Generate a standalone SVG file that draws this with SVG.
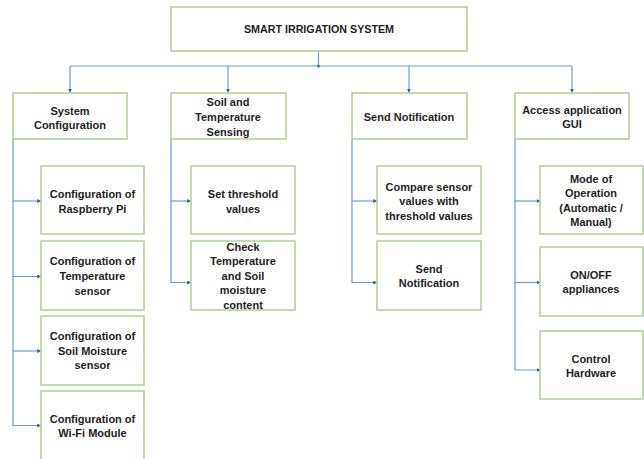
<svg xmlns="http://www.w3.org/2000/svg" width="644" height="459" viewBox="0 0 644 459">
<defs>
<style>
.box{fill:#ffffff;stroke:#a9cc8e;stroke-width:1.4}
.t{font-family:"Liberation Sans",Arial,sans-serif;font-size:11px;font-weight:bold;fill:#1e1e1e;text-anchor:middle;dominant-baseline:central}
.c{fill:none;stroke:#6d9bcf;stroke-width:1.2}
</style>
<marker id="ah" viewBox="0 0 6 6" refX="5" refY="3" markerWidth="4" markerHeight="4" orient="auto" markerUnits="userSpaceOnUse">
<path d="M0,0 L6,3 L0,6 Z" fill="#2f5f9f"/>
</marker>
</defs>
<rect width="644" height="459" fill="#ffffff"/>
<g id="connectors">
<path class="c" d="M318.5,51 V66"/>
<circle cx="318.5" cy="66" r="1.6" fill="#2f5f9f"/>
<path class="c" d="M70,66 H572"/>
<path class="c" d="M70,66 V92" marker-end="url(#ah)"/>
<path class="c" d="M228,66 V92" marker-end="url(#ah)"/>
<path class="c" d="M409,66 V92" marker-end="url(#ah)"/>
<path class="c" d="M572,66 V92" marker-end="url(#ah)"/>
<path class="c" d="M13,139 V425.5 H40.5" marker-end="url(#ah)"/>
<path class="c" d="M13,201 H40.5" marker-end="url(#ah)"/>
<path class="c" d="M13,276.5 H40.5" marker-end="url(#ah)"/>
<path class="c" d="M13,351 H40.5" marker-end="url(#ah)"/>
<path class="c" d="M171,139 V282.5 H190.5" marker-end="url(#ah)"/>
<path class="c" d="M171,201 H190.5" marker-end="url(#ah)"/>
<path class="c" d="M352,139 V282.5 H376.5" marker-end="url(#ah)"/>
<path class="c" d="M352,201 H376.5" marker-end="url(#ah)"/>
<path class="c" d="M515,139 V370 H540" marker-end="url(#ah)"/>
<path class="c" d="M515,201 H540" marker-end="url(#ah)"/>
<path class="c" d="M515,282.5 H540" marker-end="url(#ah)"/>
</g>
<g id="root">
<rect class="box" x="171" y="7" width="296" height="44"/>
<text class="t" x="319" y="29" style="font-size:10.7px">SMART IRRIGATION SYSTEM</text>
</g>
<g id="system-configuration">
<rect class="box" x="13" y="93" width="114" height="46"/>
<text class="t" x="70" y="110.5">System</text>
<text class="t" x="70" y="124.5">Configuration</text>
</g>
<g id="soil-temperature-sensing">
<rect class="box" x="171" y="93" width="115" height="46"/>
<text class="t" x="228" y="102">Soil and</text>
<text class="t" x="228" y="117">Temperature</text>
<text class="t" x="228" y="131.5">Sensing</text>
</g>
<g id="send-notification">
<rect class="box" x="352" y="93" width="115" height="46"/>
<text class="t" x="409" y="117">Send Notification</text>
</g>
<g id="access-gui">
<rect class="box" x="515" y="93" width="114" height="46"/>
<text class="t" x="572" y="110">Access application</text>
<text class="t" x="572" y="124">GUI</text>
</g>
<g id="config-rpi">
<rect class="box" x="41" y="166" width="103" height="68"/>
<text class="t" x="92.5" y="194">Configuration of</text>
<text class="t" x="92.5" y="208.5">Raspberry Pi</text>
</g>
<g id="config-temp">
<rect class="box" x="41" y="241" width="103" height="69"/>
<text class="t" x="92.5" y="261">Configuration of</text>
<text class="t" x="92.5" y="276">Temperature</text>
<text class="t" x="92.5" y="290.5">sensor</text>
</g>
<g id="config-soil">
<rect class="box" x="41" y="316" width="103" height="69"/>
<text class="t" x="92.5" y="335.5">Configuration of</text>
<text class="t" x="92.5" y="350.5">Soil Moisture</text>
<text class="t" x="92.5" y="365">sensor</text>
</g>
<g id="config-wifi">
<rect class="box" x="41" y="391" width="103" height="70"/>
<text class="t" x="92.5" y="418.5">Configuration of</text>
<text class="t" x="92.5" y="433">Wi-Fi Module</text>
</g>
<g id="set-threshold">
<rect class="box" x="191" y="166" width="104" height="68"/>
<text class="t" x="243" y="193.5">Set threshold</text>
<text class="t" x="243" y="208.5">values</text>
</g>
<g id="check-temp-soil">
<rect class="box" x="191" y="241" width="104" height="69"/>
<text class="t" x="243" y="246.5">Check</text>
<text class="t" x="243" y="261">Temperature</text>
<text class="t" x="243" y="275.5">and Soil</text>
<text class="t" x="243" y="290">moisture</text>
<text class="t" x="243" y="304.5">content</text>
</g>
<g id="compare-values">
<rect class="box" x="377" y="166" width="104" height="68"/>
<text class="t" x="429" y="186.5">Compare sensor</text>
<text class="t" x="429" y="201">values with</text>
<text class="t" x="429" y="215.5">threshold values</text>
</g>
<g id="send-notification-2">
<rect class="box" x="377" y="241" width="104" height="69"/>
<text class="t" x="429" y="268.5">Send</text>
<text class="t" x="429" y="283">Notification</text>
</g>
<g id="mode-operation">
<rect class="box" x="540" y="166" width="103" height="68"/>
<text class="t" x="591" y="178.5">Mode of</text>
<text class="t" x="591" y="193">Operation</text>
<text class="t" x="591" y="207.5">(Automatic /</text>
<text class="t" x="591" y="222">Manual)</text>
</g>
<g id="on-off">
<rect class="box" x="540" y="247" width="103" height="69"/>
<text class="t" x="591" y="274.5">ON/OFF</text>
<text class="t" x="591" y="289">appliances</text>
</g>
<g id="control-hardware">
<rect class="box" x="540" y="331" width="103" height="68"/>
<text class="t" x="591" y="358.5">Control</text>
<text class="t" x="591" y="373">Hardware</text>
</g>
</svg>
